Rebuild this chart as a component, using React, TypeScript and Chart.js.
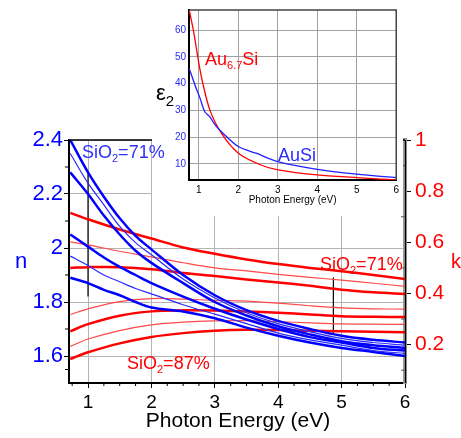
import React, { useEffect, useRef } from "react";
import { Chart, registerables } from "chart.js";
Chart.register(...registerables);

const FONT = "'Liberation Sans', Arial, sans-serif";

// ---- main chart data: refractive index n (left axis) ----
const nEnergy = [0.72, 1.0, 1.25, 1.5, 1.75, 2.0, 2.5, 3.0, 3.5, 4.0, 4.5, 5.0, 5.5, 6.0];
const n1 = [2.40, 2.28, 2.19, 2.11, 2.045, 1.995, 1.90, 1.825, 1.77, 1.73, 1.70, 1.675, 1.66, 1.65];
const n2 = [2.35, 2.24, 2.16, 2.08, 2.02, 1.975, 1.885, 1.815, 1.76, 1.72, 1.69, 1.665, 1.65, 1.64];
const n3 = [2.28, 2.20, 2.12, 2.05, 1.99, 1.945, 1.87, 1.80, 1.75, 1.71, 1.68, 1.655, 1.64, 1.63];
const n4 = [2.05, 2.005, 1.965, 1.93, 1.90, 1.87, 1.82, 1.775, 1.735, 1.70, 1.67, 1.65, 1.63, 1.62];
const n5 = [1.97, 1.935, 1.90, 1.875, 1.85, 1.83, 1.79, 1.755, 1.72, 1.685, 1.66, 1.64, 1.62, 1.61];
const n6 = [1.89, 1.87, 1.845, 1.825, 1.80, 1.78, 1.765, 1.74, 1.705, 1.675, 1.65, 1.63, 1.615, 1.60];

// ---- extinction coefficient k (right axis) ----
const kEnergy = [0.72, 1.0, 1.5, 2.0, 2.5, 3.0, 3.5, 4.0, 4.5, 5.0, 5.5, 6.0];
const k1 = [0.715, 0.69, 0.65, 0.615, 0.58, 0.555, 0.533, 0.515, 0.50, 0.487, 0.472, 0.457];
const k2 = [0.602, 0.59, 0.565, 0.543, 0.52, 0.50, 0.488, 0.475, 0.463, 0.452, 0.44, 0.428];
const k3 = [0.50, 0.503, 0.503, 0.495, 0.48, 0.468, 0.455, 0.443, 0.43, 0.415, 0.405, 0.398];
const k4 = [0.318, 0.34, 0.368, 0.38, 0.378, 0.373, 0.37, 0.362, 0.352, 0.344, 0.34, 0.339];
const k5 = [0.252, 0.28, 0.313, 0.33, 0.334, 0.333, 0.33, 0.325, 0.318, 0.311, 0.309, 0.308];
const k6 = [0.193, 0.222, 0.255, 0.277, 0.288, 0.293, 0.294, 0.29, 0.285, 0.281, 0.28, 0.279];
const k7 = [0.144, 0.17, 0.205, 0.23, 0.245, 0.254, 0.258, 0.257, 0.254, 0.252, 0.25, 0.248];

// marker bars
const markerNEnergy = [1.0, 1.0];
const markerN = [2.28, 1.82];
const markerKEnergy = [4.87, 4.87];
const markerK = [0.462, 0.245];

const xTicks = [1, 2, 3, 4, 5, 6];
const nTicks = [1.6, 1.8, 2.0, 2.2, 2.4];
const kTicks = [0.2, 0.4, 0.6, 0.8, 1.0];

// ---- inset: epsilon_2 ----
const insetEnergyAu67Si = [0.755, 0.86, 1.0, 1.1, 1.28, 1.57, 2.0, 2.57, 3.0, 4.0, 5.0, 6.0];
const epsAu67Si = [67.5, 60, 47.6, 40.1, 30.1, 21.5, 14, 9.6, 7.8, 5.9, 4.9, 4.0];
const insetEnergyAuSi = [0.755, 0.9, 1.03, 1.15, 1.28, 1.41, 1.61, 2.0, 2.45, 3.0, 4.0, 5.0, 6.0];
const epsAuSi = [45.7, 39.5, 34.5, 29.5, 27.6, 24.6, 21.5, 16.5, 14, 10.9, 8.0, 6.2, 4.9];
const insetXTicks = [1, 2, 3, 4, 5, 6];
const insetYTicks = [10, 20, 30, 40, 50, 60];

const zip = (xs: number[], ys: number[]) => xs.map((x, i) => ({ x, y: ys[i] }));

type Part = [string, number, number];
function drawRich(ctx: CanvasRenderingContext2D, x: number, y: number, parts: Part[], color: string, align = "left") {
  ctx.save();
  ctx.fillStyle = color;
  ctx.textBaseline = "alphabetic";
  ctx.textAlign = "left";
  let total = 0;
  for (const p of parts) {
    ctx.font = `${p[1]}px ${FONT}`;
    total += ctx.measureText(p[0]).width;
  }
  let cx = align === "center" ? x - total / 2 : x;
  for (const p of parts) {
    ctx.font = `${p[1]}px ${FONT}`;
    ctx.fillText(p[0], cx, y + p[2]);
    cx += ctx.measureText(p[0]).width;
  }
  ctx.restore();
}

const sio71 = (): Part[] => [["SiO", 18, 0], ["2", 11, 4], ["=71%", 18, 0]];
const sio87 = (): Part[] => [["SiO", 18, 0], ["2", 11, 4], ["=87%", 18, 0]];

export default function App() {
  const mainRef = useRef<HTMLCanvasElement>(null);
  const insetRef = useRef<HTMLCanvasElement>(null);

  useEffect(() => {
    const blueW = [2.5, 1.2, 2.5, 2.5, 1.2, 2.5];
    const nSeries = [n1, n2, n3, n4, n5, n6];
    const redW = [2.5, 1.2, 2.5, 1.2, 2.5, 1.2, 2.5];
    const kSeries = [k1, k2, k3, k4, k5, k6, k7];

    const datasets: any[] = [];
    nSeries.forEach((s, i) =>
      datasets.push({
        data: zip(nEnergy, s),
        yAxisID: "y",
        borderColor: blueW[i] > 2 ? "#0000ff" : "#2a2aff",
        borderWidth: blueW[i],
        pointRadius: 0,
        tension: 0.35,
      })
    );
    kSeries.forEach((s, i) =>
      datasets.push({
        data: zip(kEnergy, s),
        yAxisID: "y1",
        borderColor: redW[i] > 2 ? "#ff0000" : "#ff4a4a",
        borderWidth: redW[i],
        pointRadius: 0,
        tension: 0.35,
      })
    );
    datasets.push({ data: zip(markerNEnergy, markerN), yAxisID: "y", borderColor: "#000", borderWidth: 1.2, pointRadius: 0 });
    datasets.push({ data: zip(markerKEnergy, markerK), yAxisID: "y1", borderColor: "#000", borderWidth: 1.2, pointRadius: 0 });

    const mainPlugin = {
      id: "mainDecor",
      afterDraw(chart: any) {
        const ctx: CanvasRenderingContext2D = chart.ctx;
        const { left, right, top, bottom } = chart.chartArea;
        const sx = chart.scales.x, sy = chart.scales.y, sk = chart.scales.y1;
        ctx.save();
        // top frame
        ctx.strokeStyle = "#000";
        ctx.lineWidth = 1.5;
        ctx.beginPath();
        ctx.moveTo(left, top);
        ctx.lineTo(right, top);
        ctx.stroke();
        // right axis black core
        ctx.lineWidth = 1.2;
        ctx.beginPath();
        ctx.moveTo(right + 0.5, top);
        ctx.lineTo(right + 0.5, bottom);
        ctx.stroke();
        // minor ticks x
        ctx.lineWidth = 1;
        ctx.strokeStyle = "#000";
        for (let e = 0.75; e < 6; e += 0.25) {
          if (Math.abs(e - Math.round(e)) < 1e-6) continue;
          const px = sx.getPixelForValue(e);
          ctx.beginPath();
          ctx.moveTo(px, bottom);
          ctx.lineTo(px, bottom + 3);
          ctx.stroke();
        }
        // minor ticks n
        for (const v of [1.55, 1.7, 1.9, 2.1, 2.3]) {
          const py = sy.getPixelForValue(v);
          ctx.beginPath();
          ctx.moveTo(left - 4, py);
          ctx.lineTo(left, py);
          ctx.stroke();
        }
        // minor ticks k (inward)
        ctx.strokeStyle = "#555";
        for (const v of [0.1, 0.3, 0.5, 0.7, 0.9]) {
          const py = sk.getPixelForValue(v);
          ctx.beginPath();
          ctx.moveTo(right - 4, py);
          ctx.lineTo(right, py);
          ctx.stroke();
        }
        ctx.restore();
        // texts
        drawRich(ctx, 15, 268, [["n", 22, 0]], "#0000ff");
        drawRich(ctx, 451, 268, [["k", 20, 0]], "#ff0000");
        drawRich(ctx, 82, 158, sio71(), "#3030ff");
        drawRich(ctx, 320, 270, sio71(), "#ff0000");
        drawRich(ctx, 127, 369, sio87(), "#ff0000");
        drawRich(ctx, 238, 427, [["Photon Energy (eV)", 21, 0]], "#000", "center");
      },
    };

    const tickSetter = (vals: number[]) => (s: any) => {
      s.ticks = vals.map((v) => ({ value: v }));
    };
    const fmt = (v: any) => String(Math.round(Number(v) * 10) / 10);

    const main = new Chart(mainRef.current!, {
      type: "line",
      data: { datasets },
      options: {
        animation: false,
        responsive: false,
        events: [],
        layout: { padding: { top: 140, left: 0, right: 0, bottom: 0 } },
        plugins: { legend: { display: false }, tooltip: { enabled: false } },
        scales: {
          x: {
            type: "linear",
            min: 0.7,
            max: 6,
            afterBuildTicks: tickSetter(xTicks),
            afterFit: (s: any) => {
              s.height = 55;
            },
            grid: { color: "#b4b4b4", lineWidth: 1, tickLength: 5, tickColor: "#000" },
            border: { color: "#000", width: 2 },
            ticks: { color: "#000", font: { family: FONT, size: 19 }, padding: 3, maxRotation: 0, callback: fmt },
          },
          y: {
            position: "left",
            min: 1.5,
            max: 2.4,
            afterBuildTicks: tickSetter(nTicks),
            afterFit: (s: any) => {
              s.width = 69;
            },
            grid: { color: "#b4b4b4", lineWidth: 1, tickLength: 5, tickColor: "#000" },
            border: { color: "#000", width: 2 },
            ticks: { color: "#0000ff", font: { family: FONT, size: 22 }, padding: 1, callback: fmt },
          },
          y1: {
            position: "right",
            min: 0.05,
            max: 1.0,
            afterBuildTicks: tickSetter(kTicks),
            afterFit: (s: any) => {
              s.width = 56;
            },
            grid: { drawOnChartArea: false, tickLength: 6, tickColor: "#000" },
            border: { color: "#9a9a9a", width: 4 },
            ticks: { color: "#ff0000", font: { family: FONT, size: 21 }, padding: 4, callback: fmt },
          },
        },
      } as any,
      plugins: [mainPlugin],
    });

    const insetPlugin = {
      id: "insetDecor",
      beforeDraw(chart: any) {
        const ctx: CanvasRenderingContext2D = chart.ctx;
        ctx.save();
        ctx.fillStyle = "#fff";
        ctx.fillRect(0, 0, chart.width, chart.height);
        ctx.restore();
      },
      afterDraw(chart: any) {
        const ctx: CanvasRenderingContext2D = chart.ctx;
        const { left, right, top, bottom } = chart.chartArea;
        ctx.save();
        ctx.strokeStyle = "#444";
        ctx.lineWidth = 1.5;
        ctx.beginPath();
        ctx.moveTo(left, top);
        ctx.lineTo(right, top);
        ctx.lineTo(right, bottom);
        ctx.stroke();
        ctx.restore();
        drawRich(ctx, (left + right) / 2, 203, [["Photon Energy (eV)", 10, 0]], "#000", "center");
        drawRich(ctx, 4, 100, [["ε", 22, 0], ["2", 15, 6]], "#000");
        drawRich(ctx, 53, 65, [["Au", 18, 0], ["6.7", 11, 4], ["Si", 18, 0]], "#ff0000");
        drawRich(ctx, 126, 161, [["AuSi", 18, 0]], "#2a2aff");
        // part of main label overlapping inset
        drawRich(ctx, 82 - 152, 158, sio71(), "#3030ff");
      },
    };

    const inset = new Chart(insetRef.current!, {
      type: "line",
      data: {
        datasets: [
          { data: zip(insetEnergyAuSi, epsAuSi), borderColor: "#2020ff", borderWidth: 1.3, pointRadius: 0, tension: 0.3 },
          { data: zip(insetEnergyAu67Si, epsAu67Si), borderColor: "#ff0000", borderWidth: 1.3, pointRadius: 0, tension: 0.3 },
        ],
      },
      options: {
        animation: false,
        responsive: false,
        events: [],
        layout: { padding: { top: 10, left: 0, right: 6, bottom: 0 } },
        plugins: { legend: { display: false }, tooltip: { enabled: false } },
        scales: {
          x: {
            type: "linear",
            min: 0.75,
            max: 6,
            afterBuildTicks: tickSetter(insetXTicks),
            afterFit: (s: any) => {
              s.height = 36;
            },
            grid: { color: "#a0a0a0", lineWidth: 1, drawTicks: false },
            border: { color: "#000", width: 2 },
            ticks: { color: "#000", font: { family: FONT, size: 10 }, padding: 4, maxRotation: 0, callback: fmt },
          },
          y: {
            min: 4,
            max: 67.5,
            afterBuildTicks: tickSetter(insetYTicks),
            afterFit: (s: any) => {
              s.width = 37;
            },
            grid: { color: "#a0a0a0", lineWidth: 1, drawTicks: false },
            border: { color: "#000", width: 2 },
            ticks: { color: "#2a2aff", font: { family: FONT, size: 10 }, padding: 3, callback: fmt },
          },
        },
      } as any,
      plugins: [insetPlugin],
    });

    return () => {
      main.destroy();
      inset.destroy();
    };
  }, []);

  return (
    <div style={{ position: "absolute", left: 0, top: 0, width: 461, height: 438, background: "#fff", overflow: "hidden" }}>
      <canvas ref={mainRef} width={461} height={438} style={{ position: "absolute", left: 0, top: 0, width: 461, height: 438 }} />
      <canvas ref={insetRef} width={251} height={216} style={{ position: "absolute", left: 152, top: 0, width: 251, height: 216 }} />
    </div>
  );
}
